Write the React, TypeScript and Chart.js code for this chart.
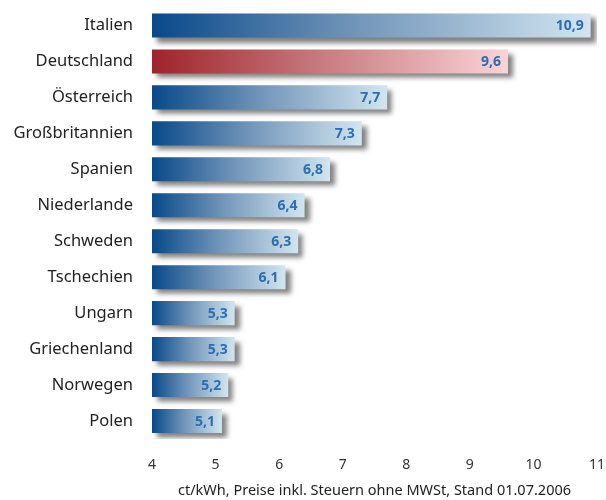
import React, { useEffect, useRef } from "react";
import { Chart, registerables } from "chart.js";

Chart.register(...registerables);

const categories = [
  "Italien",
  "Deutschland",
  "Österreich",
  "Großbritannien",
  "Spanien",
  "Niederlande",
  "Schweden",
  "Tschechien",
  "Ungarn",
  "Griechenland",
  "Norwegen",
  "Polen",
];
const prices = [10.9, 9.6, 7.7, 7.3, 6.8, 6.4, 6.3, 6.1, 5.3, 5.3, 5.2, 5.1];
const highlight = "Deutschland";
const xMin = 4;
const xMax = 11;
const axisTitle = "ct/kWh, Preise inkl. Steuern ohne MWSt, Stand 01.07.2006";

const FONT = "'Noto Sans', 'Open Sans', sans-serif";

function fmt(v: number) {
  return v.toFixed(1).replace(".", ",");
}

export default function App() {
  const ref = useRef<HTMLCanvasElement | null>(null);

  useEffect(() => {
    if (!ref.current) return;

    const shadowPlugin = {
      id: "barShadow",
      beforeDatasetsDraw(chart: any) {
        const ctx = chart.ctx;
        ctx.save();
        ctx.shadowColor = "rgba(75,75,75,0.7)";
        ctx.shadowBlur = 5;
        ctx.shadowOffsetX = 5;
        ctx.shadowOffsetY = 5;
      },
      afterDatasetsDraw(chart: any) {
        const ctx = chart.ctx;
        ctx.restore();
        const meta = chart.getDatasetMeta(0);
        ctx.save();
        ctx.font = `bold 14px ${FONT}`;
        ctx.textAlign = "right";
        ctx.textBaseline = "middle";
        meta.data.forEach((bar: any, i: number) => {
          ctx.fillStyle = "#2d6db0";
          ctx.fillText(fmt(prices[i]), bar.x - 7, bar.y + 1);
        });
        ctx.restore();
      },
    };

    const chart = new Chart(ref.current, {
      type: "bar",
      data: {
        labels: categories,
        datasets: [
          {
            data: prices,
            base: xMin,
            borderWidth: 0,
            categoryPercentage: 1,
            barPercentage: 0.67,
            backgroundColor: (c: any) => {
              const ch = c.chart;
              const { ctx, chartArea, scales } = ch;
              const isRed = categories[c.dataIndex] === highlight;
              if (!chartArea || c.type !== "data" || !scales.x) return isRed ? "#b03035" : "#1a5a96";
              const x0 = scales.x.getPixelForValue(xMin);
              const x1 = scales.x.getPixelForValue(prices[c.dataIndex]);
              const g = ctx.createLinearGradient(x0, 0, x1, 0);
              if (isRed) {
                g.addColorStop(0, "#a0232a");
                g.addColorStop(0.45, "#c4777b");
                g.addColorStop(1, "#fbd3d6");
              } else {
                g.addColorStop(0, "#08498a");
                g.addColorStop(0.45, "#6f93b8");
                g.addColorStop(1, "#d2e5f0");
              }
              return g;
            },
          },
        ],
      },
      options: {
        indexAxis: "y",
        responsive: false,
        animation: false,
        layout: { autoPadding: false, padding: { top: 7.5, right: 9, left: 0, bottom: 0 } },
        plugins: {
          legend: { display: false },
          tooltip: { enabled: false },
        },
        scales: {
          y: {
            grid: { display: false, drawTicks: true, tickLength: 19 },
            border: { display: false },
            ticks: {
              font: { family: FONT, size: 16.5, lineHeight: 0.8 },
              color: "#222",
              padding: 0,
            },
            afterFit(scale: any) {
              scale.width = 152;
            },
          },
          x: {
            min: xMin,
            max: xMax,
            grid: { display: false, drawTicks: true, tickLength: 18 },
            border: { display: false },
            ticks: {
              stepSize: 1,
              font: { family: FONT, size: 14 },
              color: "#333",
              padding: 0,
            },
            title: {
              display: true,
              text: axisTitle,
              font: { family: FONT, size: 14.5 },
              color: "#222",
              padding: { top: 4, bottom: 0 },
            },
            afterFit(scale: any) {
              scale.height = 61;
            },
          },
        },
      },
      plugins: [shadowPlugin],
    } as any);

    return () => chart.destroy();
  }, []);

  return (
    <div style={{ position: "fixed", left: 0, top: 0, width: 606, height: 500, background: "#fff" }}>
      <canvas ref={ref} width={606} height={500} />
    </div>
  );
}
